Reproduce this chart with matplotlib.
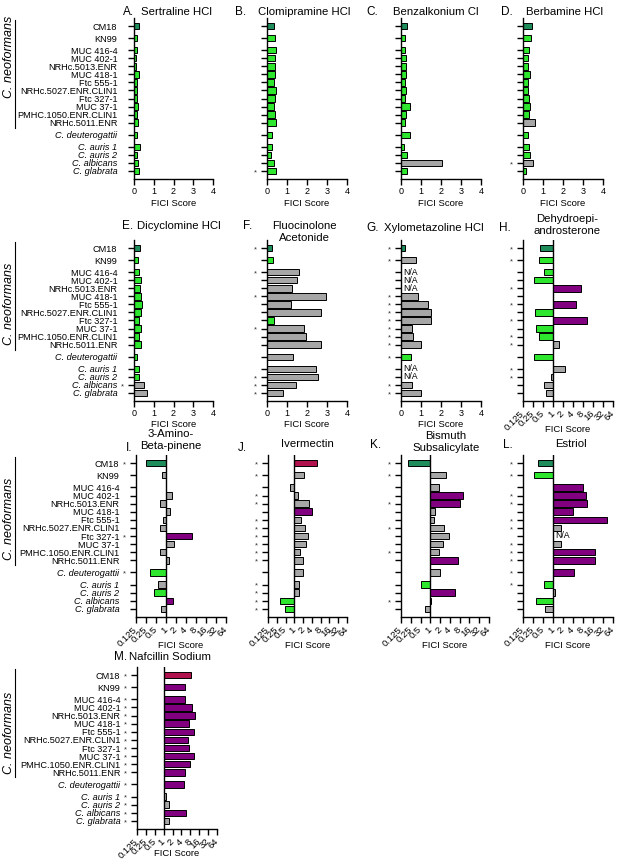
import matplotlib.pyplot as plt
import numpy as np
from matplotlib.lines import Line2D
from matplotlib.ticker import NullLocator

plt.rcParams['font.family'] = ['Liberation Sans', 'DejaVu Sans']

# strains, top to bottom (last five are other species, shown in italics)
strains = ["CM18", "KN99", "MUC 416-4", "MUC 402-1", "NRHc.5013.ENR", "MUC 418-1",
           "Ftc 555-1", "NRHc.5027.ENR.CLIN1", "Ftc 327-1", "MUC 37-1",
           "PMHC.1050.ENR.CLIN1", "NRHc.5011.ENR", "C. deuterogattii",
           "C. auris 1", "C. auris 2", "C. albicans", "C. glabrata"]
n_neoformans = 12
# spacing between consecutive rows (groups separated by 1.5)
row_steps = [0, 1.5, 1.5, 1, 1, 1, 1, 1, 1, 1, 1, 1, 1.5, 1.5, 1, 1, 1]
ypos = np.cumsum(row_steps)

lin_ticks = [0, 1, 2, 3, 4]
log_ticks = [0.125, 0.25, 0.5, 1, 2, 4, 8, 16, 32, 64]
log_labels = ["0.125", "0.25", "0.5", "1", "2", "4", "8", "16", "32", "64"]

# FICI scores (None = N/A). class codes: g synergy, n indifferent, p antagonism
# sig: "*" marks a significant strain
sertraline = [0.25, 0.17, 0.15, 0.10, 0.10, 0.25, 0.17, 0.17, 0.17, 0.20, 0.17, 0.20, 0.17, 0.30, 0.17, 0.20, 0.27]
sertraline_cls = "ggggggggggggggggg"
sertraline_sig = "................."

clomipramine = [0.33, 0.38, 0.45, 0.40, 0.40, 0.40, 0.36, 0.45, 0.42, 0.36, 0.42, 0.45, 0.23, 0.27, 0.18, 0.36, 0.45]
clomipramine_cls = "ggggggggggggggggg"
clomipramine_sig = "................*"

benzalkonium = [0.32, 0.18, 0.20, 0.27, 0.23, 0.27, 0.20, 0.23, 0.18, 0.43, 0.27, 0.20, 0.43, 0.17, 0.30, 2.07, 0.30]
benzalkonium_cls = "gggggggggggggggng"
benzalkonium_sig = "................."

berbamine = [0.47, 0.38, 0.28, 0.27, 0.25, 0.37, 0.27, 0.25, 0.30, 0.35, 0.28, 0.62, 0.25, 0.28, 0.35, 0.50, 0.15]
berbamine_cls = "gggggggggggngggng"
berbamine_sig = "...............*."

dicyclomine = [0.30, 0.22, 0.27, 0.33, 0.30, 0.33, 0.42, 0.35, 0.27, 0.35, 0.27, 0.35, 0.15, 0.25, 0.27, 0.53, 0.65]
dicyclomine_cls = "gggggggggggggggnn"
dicyclomine_sig = "...............*."

fluocinolone = [0.27, 0.30, 1.58, 1.50, 1.25, 2.95, 1.20, 2.70, 0.33, 1.83, 1.95, 2.70, 1.30, 2.47, 2.55, 1.45, 0.78]
fluocinolone_cls = "ggnnnnnngnnnnnnnn"
fluocinolone_sig = "*.*..*...*....***"

xylometazoline = [0.22, 0.73, None, None, None, 0.87, 1.37, 1.48, 1.48, 0.57, 0.62, 0.98, 0.48, None, None, 0.55, 0.98]
xylometazoline_cls = "gnnnnnnnnnnngnnnn"
xylometazoline_sig = "**...********..**"

dhea = [0.42, 0.38, 0.52, 0.26, 7.1, 1.0, 5.0, 0.28, 10.3, 0.30, 0.39, 1.56, 0.26, 2.37, 0.85, 0.54, 0.60]
dhea_cls = "ggggpnpgpggngnnnn"
dhea_sig = "**..*.*.*.**.**.."

aminopinene = [0.25, 0.76, 1.0, 1.52, 0.64, 1.35, 0.81, 0.64, 6.2, 1.71, 0.64, 1.26, 0.33, 0.57, 0.44, 1.63, 0.70]
aminopinene_cls = "gnnnnnnnpnnngngpn"
aminopinene_sig = "*.......*...*...."

ivermectin = [5.8, 2.08, 0.73, 1.30, 3.08, 3.9, 1.69, 2.37, 2.92, 2.5, 1.56, 1.92, 2.0, 1.4, 1.4, 0.31, 0.48]
ivermectin_cls = "pnnnnpnnnnnnnnngg"
ivermectin_sig = "**.**.******.****"

bismuth = [0.21, 3.0, 1.9, 9.8, 8.2, 1.36, 1.3, 2.7, 3.8, 2.5, 1.9, 7.0, 2.0, 0.52, 5.9, 1.07, 0.70]
bismuth_cls = "gnnppnnnnnnpngpnn"
bismuth_sig = "**..*..*..*....*."

estriol = [0.35, 0.26, 8.0, 10.1, 10.5, 4.06, 40.8, 1.79, None, 1.79, 18, 18, 4.25, 0.52, 1.12, 0.30, 0.56]
estriol_cls = "ggpppppnnnpppgngn"
estriol_sig = "**.**.**.*****..."

nafcillin = [8.4, 5.1, 5.1, 8.8, 11.5, 7.0, 10.3, 6.6, 7.0, 10.9, 8.0, 5.1, 4.7, 1.23, 1.52, 5.6, 1.52]
nafcillin_cls = "pppppppppppppnnpn"
nafcillin_sig = "*****************"

COLORS = {"g": "#2EE62E", "n": "#A6A6A6", "p": "#800080"}
CM18_COLORS = {"g": "#1F8C5C", "n": "#8A8A8A", "p": "#B0124E"}

FIG_W, FIG_H = 617, 861
ROWS = {1: (18, 179), 2: (240, 401), 3: (455, 617), 4: (667, 829)}

# letter, title, scale, data, x-extent (px), row, letter pos, title pos
panels = [
    ("A.", "Sertraline HCl", "lin", sertraline, sertraline_cls, sertraline_sig, (134, 213), 1, (123, 12), (176, 12)),
    ("B.", "Clomipramine HCl", "lin", clomipramine, clomipramine_cls, clomipramine_sig, (267, 347), 1, (235, 12), (304, 12)),
    ("C.", "Benzalkonium Cl", "lin", benzalkonium, benzalkonium_cls, benzalkonium_sig, (401, 481), 1, (366, 12), (436, 12)),
    ("D.", "Berbamine HCl", "lin", berbamine, berbamine_cls, berbamine_sig, (523, 603), 1, (501, 12), (565, 12)),
    ("E.", "Dicyclomine HCl", "lin", dicyclomine, dicyclomine_cls, dicyclomine_sig, (134, 213), 2, (122, 226), (179, 226)),
    ("F.", "Fluocinolone\nAcetonide", "lin", fluocinolone, fluocinolone_cls, fluocinolone_sig, (267, 347), 2, (243, 226), (304, 232)),
    ("G.", "Xylometazoline HCl", "lin", xylometazoline, xylometazoline_cls, xylometazoline_sig, (401, 481), 2, (366, 228), (434, 228)),
    ("H.", "Dehydroepi-\nandrosterone", "log", dhea, dhea_cls, dhea_sig, (523, 613), 2, (499, 228), (567, 225)),
    ("I.", "3-Amino-\nBeta-pinene", "log", aminopinene, aminopinene_cls, aminopinene_sig, (136, 226), 3, (126, 448), (171, 440)),
    ("J.", "Ivermectin", "log", ivermectin, ivermectin_cls, ivermectin_sig, (268, 347), 3, (238, 448), (307, 444)),
    ("K.", "Bismuth\nSubsalicylate", "log", bismuth, bismuth_cls, bismuth_sig, (401, 489), 3, (370, 445), (446, 442)),
    ("L.", "Estriol", "log", estriol, estriol_cls, estriol_sig, (523, 613), 3, (503, 445), (571, 444)),
    ("M.", "Nafcillin Sodium", "log", nafcillin, nafcillin_cls, nafcillin_sig, (137, 217), 4, (114, 657), (170, 657)),
]
# y centre (px) of the "C. neoformans" bracket label for each row
neo_label_y = {1: 57, 2: 304, 3: 519, 4: 733}

fig = plt.figure(figsize=(FIG_W / 100, FIG_H / 100), dpi=100)


def ftext(xpx, ypx, s, **kw):
    return fig.text(xpx / FIG_W, 1 - ypx / FIG_H, s, **kw)


def row_px(row, u):
    top, bottom = ROWS[row]
    return top + (u + 1) * (bottom - top) / 20.0


for letter, title, scale, vals, cls, sig, (x0, x1), row, lpos, tpos in panels:
    top, bottom = ROWS[row]
    ax = fig.add_axes([x0 / FIG_W, 1 - bottom / FIG_H, (x1 - x0) / FIG_W, (bottom - top) / FIG_H])
    base = 1.0 if scale == "log" else 0.0

    for i, (v, c) in enumerate(zip(vals, cls)):
        y = ypos[i]
        if v is None:
            ax.annotate("N/A", xy=(base, y), xytext=(1.5, 0), textcoords="offset points",
                        ha="left", va="center", fontsize=6.3, zorder=4)
            continue
        col = (CM18_COLORS if i == 0 else COLORS)[c]
        ax.barh(y, v - base, left=base, height=0.8, color=col,
                edgecolor="black", linewidth=0.7, zorder=2)

    # significance asterisks left of the y axis
    for i, s in enumerate(sig):
        if s == "*":
            ax.annotate("*", xy=(0, ypos[i]), xycoords=ax.get_yaxis_transform(),
                        xytext=(-8.5, -1.2), textcoords="offset points",
                        ha="center", va="center", fontsize=5.5, color="#333333",
                        annotation_clip=False)

    ax.set_ylim(19, -1)
    ax.set_yticks(ypos)
    for side in ("top", "right"):
        ax.spines[side].set_visible(False)
    for side in ("left", "bottom"):
        ax.spines[side].set_linewidth(1.0)
    ax.tick_params(axis="both", direction="out", length=4, width=1.0)

    if scale == "log":
        ax.set_xscale("log", base=2)
        ax.set_xlim(0.125, 64)
        ax.set_xticks(log_ticks)
        ax.set_xticklabels(log_labels, rotation=45, ha="right", va="center",
                           rotation_mode="anchor", fontsize=6.8)
        ax.xaxis.set_minor_locator(NullLocator())
        ax.tick_params(axis="x", pad=4)
        ax.axvline(1, color="black", lw=1.0, zorder=3)
        xlab_off = 24 if row == 4 else 28
    else:
        ax.set_xlim(0, 4)
        ax.set_xticks(lin_ticks)
        ax.tick_params(axis="x", labelsize=6.5, pad=2)
        xlab_off = 24

    if x0 < 200:
        ax.set_yticklabels(strains, fontsize=6.6)
        for lab in ax.get_yticklabels()[n_neoformans:]:
            lab.set_fontstyle("italic")
        ax.tick_params(axis="y", pad=8)
        # C. neoformans bracket
        y_a = row_px(row, ypos[0]) - 6
        y_b = row_px(row, ypos[n_neoformans - 1]) + 5
        fig.add_artist(Line2D([14.5 / FIG_W] * 2, [1 - y_a / FIG_H, 1 - y_b / FIG_H],
                              color="black", lw=0.8))
        ftext(9.5, neo_label_y[row], "C. neoformans", rotation=90, ha="center",
              va="center", fontsize=9, style="italic")
    else:
        ax.set_yticklabels([])

    ftext((x0 + x1) / 2, bottom + xlab_off, "FICI Score", ha="center", va="center", fontsize=6.8)
    ftext(lpos[0], lpos[1], letter, ha="left", va="center", fontsize=8.5)
    ftext(tpos[0], tpos[1], title, ha="center", va="center", fontsize=8.2, linespacing=1.2)

fig.savefig("out.png", dpi=100)
